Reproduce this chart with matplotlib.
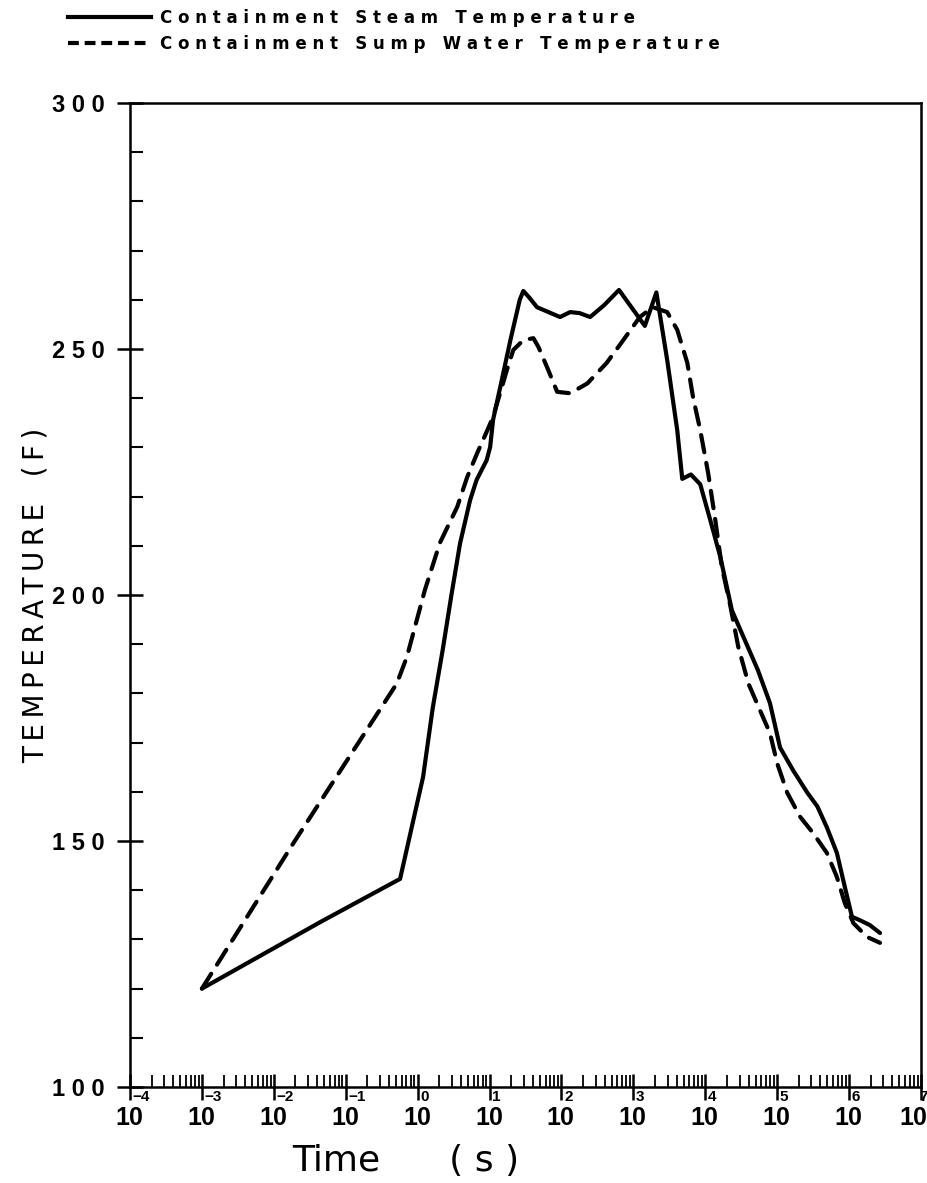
import matplotlib
matplotlib.use('Agg')
import matplotlib.pyplot as plt
from matplotlib.ticker import MultipleLocator, LogLocator, FixedLocator, NullFormatter
from matplotlib.transforms import blended_transform_factory, offset_copy
from matplotlib.lines import Line2D

# containment steam temperature (solid)
steam_time = [1e-3, 0.044, 0.57, 1.19, 1.62, 2.24, 2.95, 3.89, 5.37, 6.61, 9.12, 10.2, 11.2, 14.8,
              19.5, 26.3, 29.5, 35.5, 45.7, 95.5, 132, 178, 251, 398, 631, 1445, 2089, 2951,
              4074, 4786, 6310, 8511, 11750, 16220, 23440, 33880, 53700, 79430, 109600,
              166000, 263000, 363000, 490000, 676000, 871000, 1096000, 1413000, 1950000, 2692000]
steam_temp = [120, 133.5, 142.3, 163, 177, 189, 200, 210.5, 219.3, 223.4, 227.4, 230.1, 235.6, 243.7,
              251.8, 260, 261.8, 260.5, 258.5, 256.5, 257.5, 257.3, 256.5, 259, 262, 254.7, 261.5, 247.8,
              233.5, 223.6, 224.5, 222.5, 215.2, 207.7, 196.9, 191.5, 184.8, 178, 169,
              164.4, 159.8, 157, 152.8, 147.6, 140.7, 134.6, 133.9, 132.9, 131.3]

# containment sump water temperature (dashed)
sump_time = [1e-3, 0.0186, 0.513, 0.708, 1.26, 2.04, 3.55, 4.9, 6.76, 9.33, 11.2, 17.4, 21.4,
             29.5, 40.7, 47.9, 63.1, 87.1, 132, 229, 427, 724, 1230, 1862, 2951, 4074, 5623,
             6761, 8511, 10960, 13800, 16980, 21880, 28840, 39810, 57540, 79430, 100000,
             138000, 208900, 316200, 489800, 676100, 871000, 1148000, 1778000, 2692000]
sump_temp = [120, 149.5, 182, 187.4, 201, 210.6, 217.9, 224, 228.9, 233.5, 236.2, 245.7, 249.8,
             251.8, 252.2, 250.4, 246.3, 241.3, 241, 243, 247.2, 251.8, 256.5, 258.5, 257.5, 253.9, 247.2,
             240.2, 233.5, 224.8, 215.2, 205.7, 198.4, 189.4, 182, 176.6, 171.9, 165.8,
             159.8, 154.9, 151.6, 147.6, 142.7, 137.4, 133.3, 130.5, 129.3]

exponents = [-4, -3, -2, -1, 0, 1, 2, 3, 4, 5, 6, 7]
yticks = [100, 150, 200, 250, 300]
series_names = ['Containment Steam Temperature', 'Containment Sump Water Temperature']

fam = ['Liberation Sans', 'DejaVu Sans']
plt.rcParams['font.family'] = fam


def spaced(s, sep=' '):
    return sep.join(s)


fig = plt.figure(figsize=(9.28, 11.83), dpi=100)
ax = fig.add_axes([130 / 928, 1 - 1087 / 1183, 791 / 928, 984 / 1183])

ax.plot(steam_time, steam_temp, color='black', lw=3, solid_joinstyle='round', solid_capstyle='round')
ax.plot(sump_time, sump_temp, color='black', lw=3, dashes=(4.2, 2.6), dash_capstyle='round')

ax.set_xscale('log')
ax.set_xlim(1e-4, 1e7)
ax.set_ylim(100, 300)

xt = [10.0 ** e for e in exponents]
ax.xaxis.set_major_locator(FixedLocator(xt))
ax.xaxis.set_major_formatter(NullFormatter())
ax.xaxis.set_minor_locator(LogLocator(base=10, subs=range(2, 10), numticks=100))
ax.xaxis.set_minor_formatter(NullFormatter())

# x tick labels drawn as "10" with the exponent sitting above, just right of the tick
# (the last one is pulled left so it stays on the page)
trans = blended_transform_factory(ax.transData, ax.transAxes)
for e, t in zip(exponents, xt):
    last = t == xt[-1]
    base_tr = offset_copy(trans, fig=fig, x=4.5 if last else -0.5, y=-14, units='points')
    exp_tr = offset_copy(trans, fig=fig, x=4.5 if last else 2.0, y=-12.5, units='points')
    ax.text(t, 0, '10', transform=base_tr, ha='right' if last else 'center', va='top',
            fontsize=18, fontweight='bold', clip_on=False)
    ax.text(t, 0, str(e).replace('-', '\u2212'), transform=exp_tr,
            ha='right' if last else 'left', va='bottom',
            fontsize=11, fontweight='bold', clip_on=False)

ax.yaxis.set_major_locator(FixedLocator(yticks))
ax.yaxis.set_minor_locator(MultipleLocator(10))
ax.set_yticklabels([spaced(str(v)) for v in yticks])

for s in ax.spines.values():
    s.set_linewidth(1.8)

ax.tick_params(axis='x', which='major', direction='inout', length=19, width=1.8,
               bottom=True, top=False)
ax.tick_params(axis='x', which='minor', direction='in', length=8.5, width=1.3, top=False)
ax.tick_params(axis='y', which='major', direction='inout', length=19, width=1.8, pad=9,
               labelsize=17, right=False)
ax.tick_params(axis='y', which='minor', direction='in', length=9, width=1.5, right=False)
for lab in ax.get_yticklabels():
    lab.set_fontweight('bold')

ax.set_ylabel(spaced('TEMPERATURE', '\u2009') + '   ' + spaced('(F)', '\u2009'),
              fontsize=20, family=['DejaVu Sans'])
ax.yaxis.set_label_coords(-0.102, 0.5)
ax.set_xlabel('Time      ( s )', fontsize=26, family=['DejaVu Sans'])
ax.xaxis.set_label_coords(0.348, -0.058)

handles = [Line2D([], [], color='black', lw=3),
           Line2D([], [], color='black', lw=3, dashes=(2.6, 1.4))]
fig.legend(handles, [spaced(n) for n in series_names], loc='upper left',
           bbox_to_anchor=(68 / 928, 1 - 9 / 1183), frameon=False,
           prop={'family': ['DejaVu Sans'], 'weight': 'bold', 'size': 12},
           handlelength=5.0, handletextpad=0.5, labelspacing=0.5,
           borderpad=0, borderaxespad=0)

fig.savefig('out.png', dpi=100)
